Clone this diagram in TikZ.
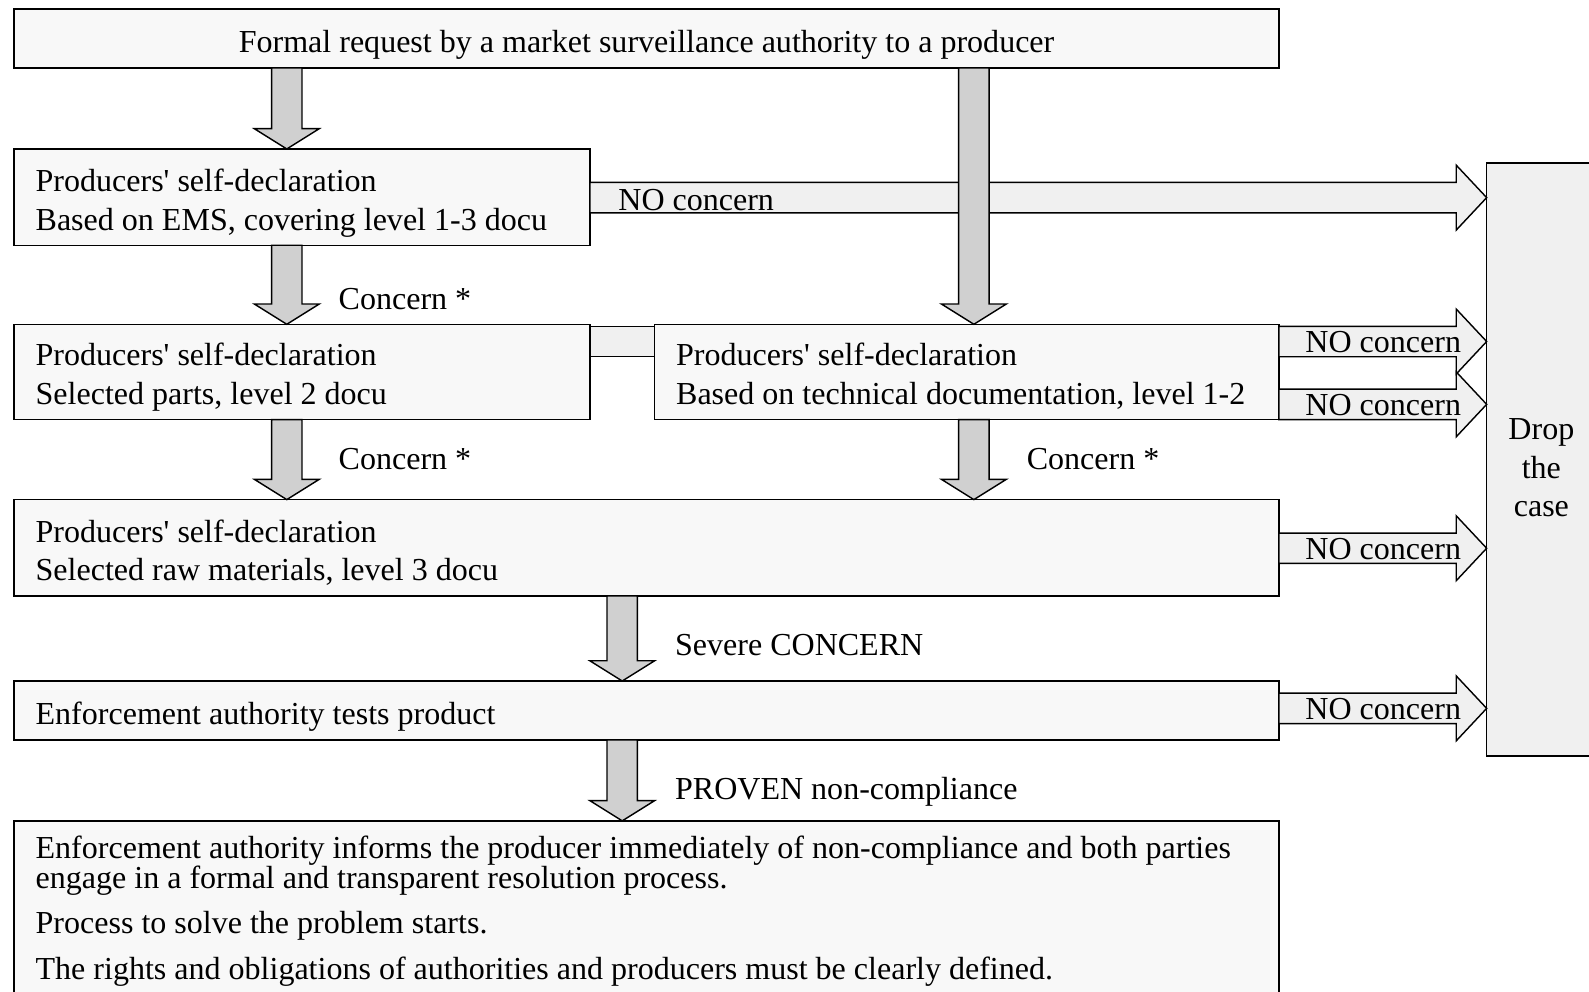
\documentclass[tikz,border=0pt]{standalone}
\usepackage{fontspec}
\setmainfont{Liberation Serif}
\usetikzlibrary{calc}
\definecolor{boxfill}{HTML}{F8F8F8}
\definecolor{lightfill}{HTML}{F0F0F0}
\definecolor{darkfill}{HTML}{D0D0D0}
\tikzset{
  box/.style={draw=black, line width=1.4pt, fill=boxfill, inner sep=0pt, outer sep=0pt},
  dropbox/.style={draw=black, line width=1.4pt, fill=lightfill, inner sep=0pt, outer sep=0pt},
  txt/.style={anchor=base west, inner sep=0pt, font=\fontsize{31.6}{36}\selectfont},
  ctxt/.style={anchor=base, inner sep=0pt, font=\fontsize{31.6}{36}\selectfont},
  darrow/.style={draw=black, line width=1.4pt, fill=darkfill, line join=miter},
  rarrow/.style={draw=black, line width=1.4pt, fill=lightfill, line join=miter},
}
\newcommand\blkdown[3]{%
  \path[darrow] ($(#1.south -| #3)+(-15,0)$) -- ($(#1.south -| #3)+(15,0)$)
    -- ($(#2.north -| #3)+(15,-20)$) -- ($(#2.north -| #3)+(32,-20)$)
    -- (#2.north -| #3) -- ($(#2.north -| #3)+(-32,-20)$)
    -- ($(#2.north -| #3)+(-15,-20)$) -- cycle;}
\newcommand\blkright[3]{%
  \path[rarrow] ($(#1.east |- #3)+(0,-15)$) -- ($(#2.west |- #3)+(-30,-15)$)
    -- ($(#2.west |- #3)+(-30,-32)$) -- (#2.west |- #3)
    -- ($(#2.west |- #3)+(-30,32)$) -- ($(#2.west |- #3)+(-30,15)$)
    -- ($(#1.east |- #3)+(0,15)$) -- cycle;}
\begin{document}
\begin{tikzpicture}[x=1pt,y=-1pt]
\useasboundingbox (0,0) rectangle (1568,978);
\clip (0,0) rectangle (1568,978);
\fill[white] (0,0) rectangle (1568,978);
% columns and rows
\coordinate (colA) at (283,0);
\coordinate (colB) at (961,0);
\coordinate (colC) at (614,0);
\coordinate (rowA) at (0,195);
\coordinate (rowB) at (0,337);
\coordinate (rowC) at (0,399);
\coordinate (rowD) at (0,541);
\coordinate (rowE) at (0,699);
% boxes
\node[box, minimum width=1248, minimum height=58] (top) at (638,38) {};
\node[box, minimum width=568, minimum height=95] (b2) at (298,194.5) {};
\node[box, minimum width=568, minimum height=94] (b3) at (298,367) {};
\node[box, minimum width=616, minimum height=94] (b4) at (954,367) {};
\node[box, minimum width=1248, minimum height=95] (b5) at (638,540.5) {};
\node[box, minimum width=1248, minimum height=58] (b6) at (638,701) {};
\node[box, minimum width=1248, minimum height=190] (b7) at (638,905) {};
\node[dropbox, minimum width=123, minimum height=585] (drop) at (1528.5,453.5) {};
% right arrows
\blkright{b2}{drop}{rowA}
\blkright{b4}{drop}{rowB}
\blkright{b4}{drop}{rowC}
\blkright{b5}{drop}{rowD}
\blkright{b6}{drop}{rowE}
\path[rarrow] ($(b3.east |- rowB)+(0,-15)$) rectangle ($(b4.west |- rowB)+(0,15)$);
% down arrows
\blkdown{top}{b2}{colA}
\blkdown{b2}{b3}{colA}
\blkdown{b3}{b5}{colA}
\blkdown{top}{b4}{colB}
\blkdown{b4}{b5}{colB}
\blkdown{b5}{b6}{colC}
\blkdown{b6}{b7}{colC}
% texts
\node[ctxt] (ttop) at (638,52) {Formal request by a market surveillance authority to a producer};
\node[txt] (t2a) at (35,189) {Producers\textquotesingle\ self-declaration};
\node[txt] (t2b) at (35,227) {Based on EMS, covering level 1-3 docu};
\node[txt] (t3a) at (35,361) {Producers\textquotesingle\ self-declaration};
\node[txt] (t3b) at (35,399) {Selected parts, level 2 docu};
\node[txt] (t4a) at (667,361) {Producers\textquotesingle\ self-declaration};
\node[txt] (t4b) at (667,399) {Based on technical documentation, level 1-2};
\node[txt] (t5a) at (35,535) {Producers\textquotesingle\ self-declaration};
\node[txt] (t5b) at (35,573) {Selected raw materials, level 3 docu};
\node[txt] (t6) at (35,715) {Enforcement authority tests product};
\node[txt] (t7a) at (35,847) {Enforcement authority informs the producer immediately of non-compliance and both parties};
\node[txt] (t7b) at (35,877) {engage in a formal and transparent resolution process.};
\node[txt] (t7c) at (35,921) {Process to solve the problem starts.};
\node[txt] (t7d) at (35,967) {The rights and obligations of authorities and producers must be clearly defined.};
\node[ctxt] (td1) at (1521,434) {Drop};
\node[ctxt] (td2) at (1521,472) {the};
\node[ctxt] (td3) at (1521,510) {case};
% arrow labels
\node[txt] (l1) at (610,208) {NO concern};
\node[txt] (l2) at (1288,348) {NO concern};
\node[txt] (l3) at (1288,410) {NO concern};
\node[txt] (l4) at (1288,552) {NO concern};
\node[txt] (l5) at (1288,710) {NO concern};
\node[txt] (c1) at (334,305) {Concern *};
\node[txt] (c2) at (334,463) {Concern *};
\node[txt] (c3) at (1013,463) {Concern *};
\node[txt] (s1) at (666,647) {Severe CONCERN};
\node[txt] (p1) at (666,789) {PROVEN non-compliance};
\end{tikzpicture}
\end{document}
